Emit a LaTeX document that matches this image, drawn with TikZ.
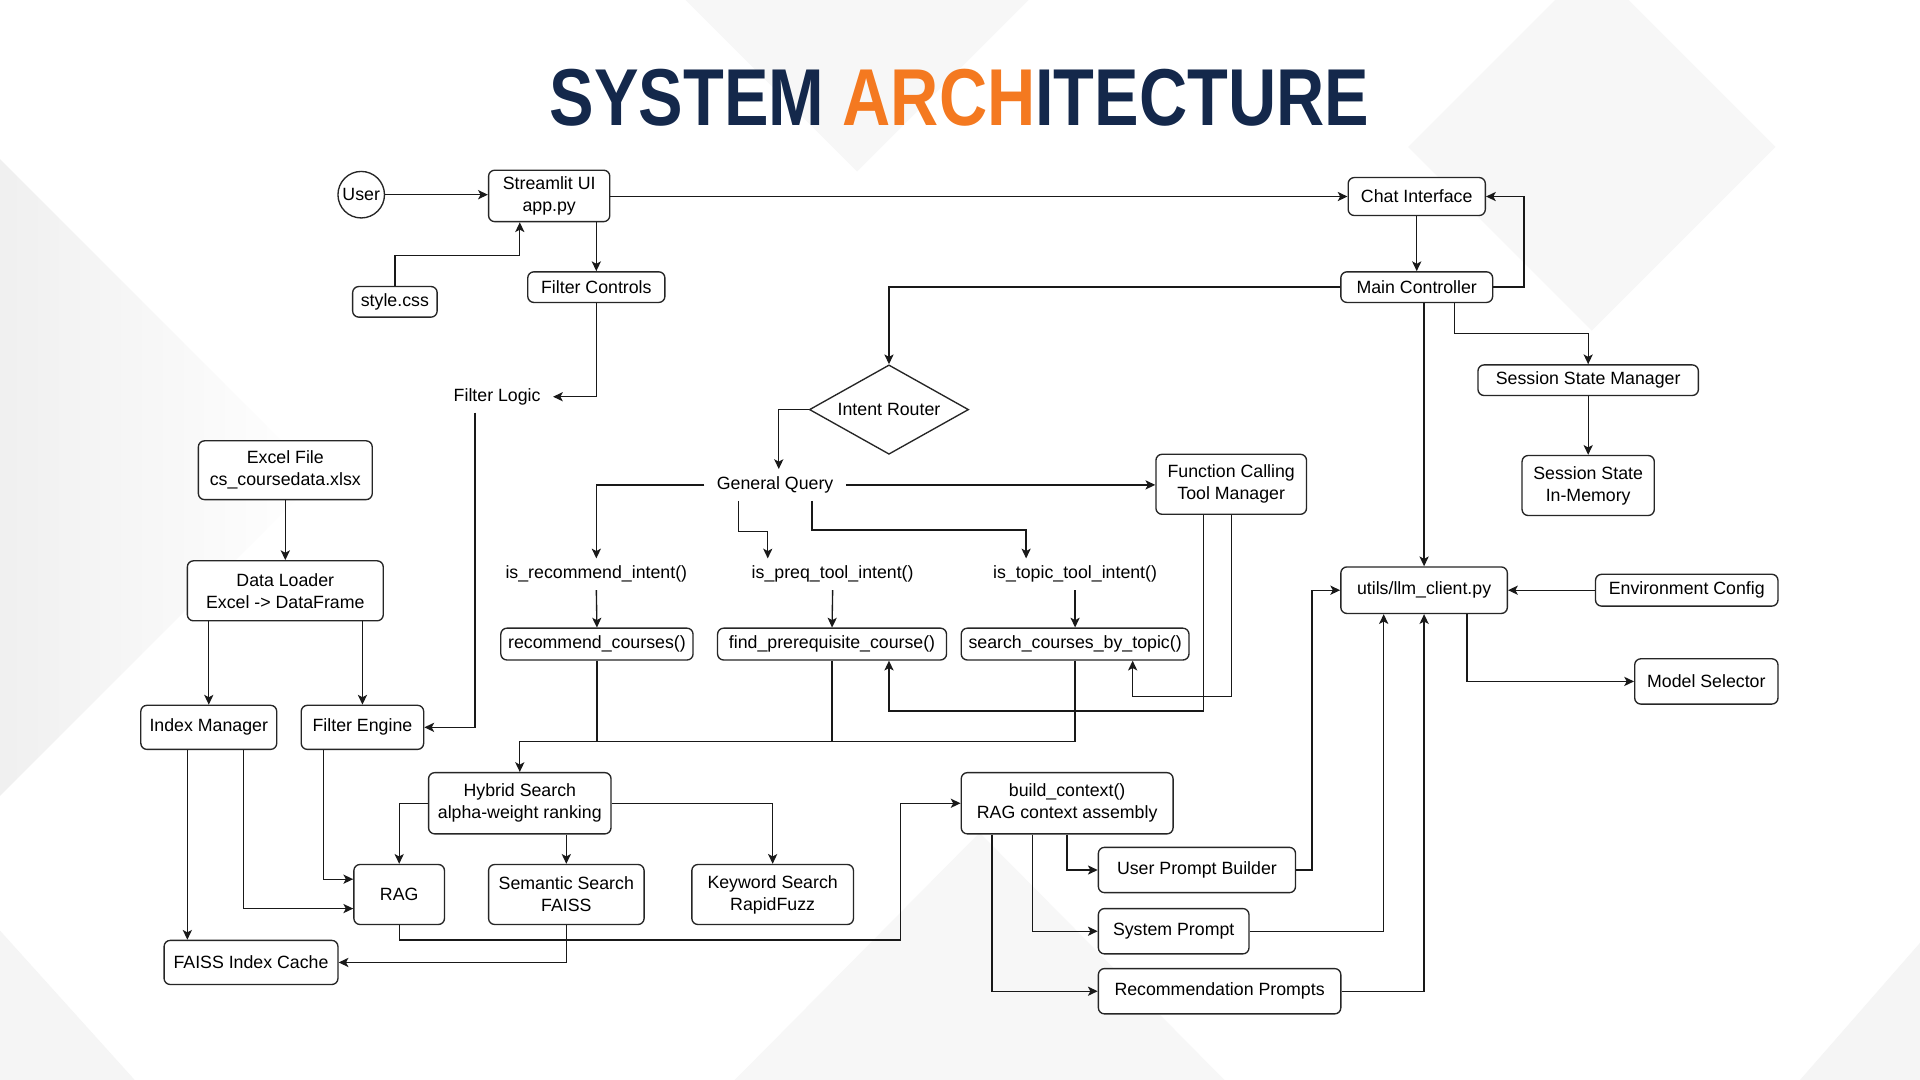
\documentclass[tikz,border=0pt]{standalone}
\usepackage{fontspec}
\setmainfont{Liberation Sans}
\usetikzlibrary{shapes.geometric,arrows.meta,calc}
\definecolor{ttlnavy}{HTML}{14284B}
\definecolor{ttlorange}{HTML}{F47920}
\begin{document}
\begin{tikzpicture}[x=1pt,y=-1pt,
  nfont/.style={font=\fontsize{14.5pt}{18pt}\selectfont},
  box/.style={draw=black!85, line width=1.1pt, rounded corners=5pt, fill=white, align=center, inner sep=1pt, nfont},
  txt/.style={align=center, inner xsep=10pt, inner ysep=6pt, nfont},
  arr/.style={draw=black!90, line width=1.1pt, -{Stealth[length=8pt,width=7.5pt,inset=2pt]}},
  ln/.style={draw=black!90, line width=1.1pt},
  bgshape/.style={fill=black!4, draw=none}]
\useasboundingbox (0,0) rectangle (1568,882);
\fill[white] (0,0) rectangle (1568,882);
% background decoration
\shade[left color=black!6, right color=white] (0,130) -- (260,390) -- (0,650) -- cycle;
\fill[bgshape] (0,760) -- (110,882) -- (0,882) -- cycle;
\fill[bgshape] (1568,770) -- (1470,882) -- (1568,882) -- cycle;
\fill[black!3] (560,0) -- (700,140) -- (840,0) -- cycle;
\fill[black!3] (1150,120) -- (1300,270) -- (1450,120) -- (1300,-30) -- cycle;
\fill[black!3] (600,882) -- (800,680) -- (1000,882) -- cycle;

% title
\node (title) at (783.5,80) {\resizebox{669pt}{46pt}{\bfseries\color{ttlnavy}SYSTEM \color{ttlorange}ARCH\color{ttlnavy}ITECTURE}};

% nodes
\node[box, circle, minimum size=38pt, inner sep=0pt] (user) at (295,159) {User};
\node[box, minimum width=99pt, minimum height=42pt] (st) at (448.5,160) {Streamlit UI\\app.py};
\node[box, minimum width=112pt, minimum height=31pt] (chat) at (1157,160.5) {Chat Interface};
\node[box, minimum width=124pt, minimum height=25pt] (mc) at (1157,234.5) {Main Controller};
\node[box, minimum width=69pt, minimum height=25pt] (css) at (322.5,246.5) {style.css};
\node[box, minimum width=112pt, minimum height=25pt] (fc) at (487,234.5) {Filter Controls};
\node[txt] (flogic) at (406,324) {Filter Logic};
\node[box, diamond, shape aspect=1.78, minimum width=130pt, minimum height=73pt, inner sep=0pt, rounded corners=0pt] (ir) at (726,334.5) {Intent Router};
\node[box, minimum width=180pt, minimum height=25pt] (ssm) at (1297,310.5) {Session State Manager};
\node[box, minimum width=108pt, minimum height=49pt] (ssim) at (1297,396.5) {Session State\\In-Memory};
\node[txt] (gq) at (633,396) {General Query};
\node[box, minimum width=123pt, minimum height=49pt] (fctm) at (1005.5,395.5) {Function Calling\\Tool Manager};
\node[box, minimum width=142pt, minimum height=48pt] (ex) at (233,384) {Excel File\\cs\_coursedata.xlsx};
\node[box, minimum width=160pt, minimum height=49pt] (dl) at (233,482.5) {Data Loader\\Excel -> DataFrame};
\node[txt] (isr) at (487,469) {is\_recommend\_intent()};
\node[txt] (isp) at (680,469) {is\_preq\_tool\_intent()};
\node[txt] (ist) at (878,469) {is\_topic\_tool\_intent()};
\node[box, minimum width=157pt, minimum height=26pt] (rc) at (487.5,526) {recommend\_courses()};
\node[box, minimum width=187pt, minimum height=26pt] (fp) at (679.5,526) {find\_prerequisite\_course()};
\node[box, minimum width=186pt, minimum height=26pt] (sc) at (878,526) {search\_courses\_by\_topic()};
\node[box, minimum width=136pt, minimum height=38pt] (llm) at (1163,482) {utils/llm\_client.py};
\node[box, minimum width=149pt, minimum height=26pt] (env) at (1377.5,482) {Environment Config};
\node[box, minimum width=117pt, minimum height=37pt] (ms) at (1393.5,556.5) {Model Selector};
\node[box, minimum width=111pt, minimum height=36pt] (im) at (170.5,594) {Index Manager};
\node[box, minimum width=100pt, minimum height=36pt] (fe) at (296,594) {Filter Engine};
\node[box, minimum width=149pt, minimum height=50pt] (hs) at (424.5,656) {Hybrid Search\\alpha-weight ranking};
\node[box, minimum width=173pt, minimum height=50pt] (bc) at (871.5,656) {build\_context()\\RAG context assembly};
\node[box, minimum width=74pt, minimum height=49pt] (rag) at (326,730.5) {RAG};
\node[box, minimum width=127pt, minimum height=49pt] (ss) at (462.5,730.5) {Semantic Search\\FAISS};
\node[box, minimum width=132pt, minimum height=49pt] (ks) at (631,730.5) {Keyword Search\\RapidFuzz};
\node[box, minimum width=161pt, minimum height=37pt] (upb) at (977.5,710.5) {User Prompt Builder};
\node[box, minimum width=123pt, minimum height=37pt] (sp) at (958.5,760.5) {System Prompt};
\node[box, minimum width=142pt, minimum height=36pt] (fic) at (205,786) {FAISS Index Cache};
\node[box, minimum width=198pt, minimum height=37pt] (rp) at (996,809.5) {Recommendation Prompts};

% connectors
\draw[arr] (user.east) -- (user.east -| st.west);
\draw[arr] (st.east |- chat.west) -- (chat.west);
\draw[arr] (css.north) -- ++(0,-25) -| ([xshift=-24pt]st.south);
\draw[arr] (fc.north |- st.south) -- (fc.north);
\draw[arr] (fc.south) |- (flogic.east);
\draw[arr] ([xshift=-18pt]flogic.south) |- (fe.east);
\draw[arr] (chat.south) -- (mc.north);
\draw[arr] (mc.east) -- ++(25,0) |- (chat.east);
\draw[arr] (mc.west) -| (ir.north);
\draw[arr] ([xshift=31pt]mc.south) -- ++(0,25) -| (ssm.north);
\draw[arr] (ssm.south) -- (ssim.north);
\draw[arr] (llm.north |- mc.south) -- (llm.north);
\draw[arr] (ir.west) -| ([xshift=3pt]gq.north);
\draw[arr] (gq.east) -- (gq.east -| fctm.west);
\draw[arr] (gq.west) -| (isr.north);
\draw[arr] ([xshift=-30pt]gq.south) -- ++(0,25) -| ([xshift=-53pt]isp.north);
\draw[arr] ([xshift=30pt]gq.south) -- ++(0,24) -| ([xshift=-40pt]ist.north);
\draw[arr] (isr.south) -- (rc.north);
\draw[arr] (isp.south) -- (fp.north);
\draw[arr] (ist.south) -- (sc.north);
\draw[ln] (rc.south) -- ++(0,66);
\draw[ln] (fp.south) -- ++(0,66);
\draw[arr] (sc.south) -- ++(0,66) -| (hs.north);
\draw[arr] ([xshift=-22.5pt]fctm.south) -- ++(0,160) -| ([xshift=46.5pt]fp.south);
\draw[arr] (fctm.south) -- ++(0,148) -| ([xshift=47pt]sc.south);
\draw[arr] (ex.south) -- (dl.north);
\draw[arr] (im.north |- dl.south) -- (im.north);
\draw[arr] (fe.north |- dl.south) -- (fe.north);
\draw[arr] ([xshift=-17.5pt]im.south) -- ([xshift=-17.5pt]im.south |- fic.north);
\draw[arr] ([xshift=28.5pt]im.south) |- ([yshift=-11.5pt]rag.west);
\draw[arr] ([xshift=-32pt]fe.south) |- ([yshift=12.5pt]rag.west);
\draw[arr] (hs.west) -| (rag.north);
\draw[arr] (ss.north |- hs.south) -- (ss.north);
\draw[arr] (hs.east) -| (ks.north);
\draw[arr] (rag.south) -- ++(0,12) -| ([xshift=-49pt]bc.west) -- (bc.west);
\draw[arr] (ss.south) |- (fic.east);
\draw[arr] (bc.south) |- (upb.west);
\draw[arr] ([xshift=-28.5pt]bc.south) |- (sp.west);
\draw[arr] ([xshift=-61.5pt]bc.south) |- (rp.west);
\draw[arr] (upb.east) -- ++(13,0) |- (llm.west);
\draw[arr] (sp.east) -| ([xshift=-33pt]llm.south);
\draw[arr] (rp.east) -| (llm.south);
\draw[arr] (env.west) -- (llm.east);
\draw[arr] ([xshift=35pt]llm.south) |- (ms.west);
\end{tikzpicture}
\end{document}
